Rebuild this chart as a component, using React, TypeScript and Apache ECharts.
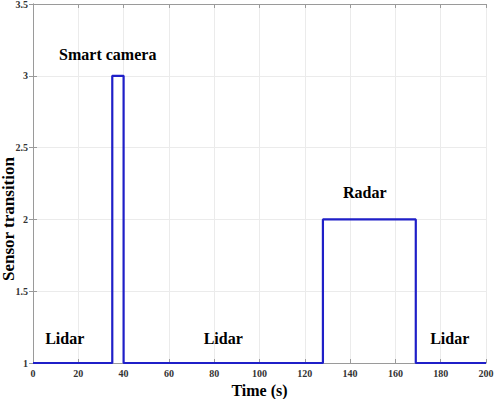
import React, { useEffect, useRef } from "react";
import * as echarts from "echarts";

const times = [0, 35, 35, 40, 40, 128, 128, 169, 169, 200];
const levels = [1, 1, 3, 3, 1, 1, 2, 2, 1, 1];

const labelTexts = ["Smart camera", "Lidar", "Lidar", "Radar", "Lidar"];
const labelTimes = [33, 14, 84, 146.5, 184];
const labelLevels = [3.15, 1.17, 1.17, 2.19, 1.17];

const xTicks = { min: 0, max: 200, interval: 20 };
const yTicks = { min: 1, max: 3.5, interval: 0.5 };

const xTitle = "Time (s)";
const yTitle = "Sensor transition";

const FONT = "Liberation Serif";

export default function App() {
  const ref = useRef<HTMLDivElement>(null);
  useEffect(() => {
    if (!ref.current) return;
    const chart = echarts.init(ref.current, undefined, { renderer: "svg" });
    const axisLineStyle = { color: "#9a9a9a", width: 1 };
    const tickLabel = {
      fontFamily: FONT,
      fontWeight: "bold" as const,
      fontSize: 10,
      color: "#333",
    };
    chart.setOption({
      animation: false,
      backgroundColor: "#fff",
      grid: {
        left: 33,
        right: 8,
        top: 4,
        bottom: 36,
        containLabel: false,
        outerBoundsMode: "none",
      },
      graphic: [
        {
          type: "text",
          x: 8,
          y: 219,
          rotation: Math.PI / 2,
          style: {
            text: yTitle,
            fontFamily: FONT,
            fontWeight: "bold",
            fontSize: 17,
            fill: "#000",
            align: "center",
            verticalAlign: "middle",
          },
        },
      ],
      xAxis: [
        {
          type: "value",
          min: xTicks.min,
          max: xTicks.max,
          interval: xTicks.interval,
          name: xTitle,
          nameLocation: "middle",
          nameGap: 19,
          nameMoveOverlap: false,
          nameTextStyle: { fontFamily: FONT, fontWeight: "bold", fontSize: 16, color: "#000" },
          axisLine: { show: true, lineStyle: axisLineStyle },
          axisTick: { show: true, inside: true, length: 4, lineStyle: axisLineStyle },
          axisLabel: { ...tickLabel, margin: 5 },
          splitLine: { show: true, lineStyle: { color: "#ebebeb", width: 1 } },
        },
        {
          type: "value",
          position: "top",
          min: xTicks.min,
          max: xTicks.max,
          interval: xTicks.interval,
          axisLine: { show: true, lineStyle: axisLineStyle },
          axisTick: { show: true, inside: true, length: 4, lineStyle: axisLineStyle },
          axisLabel: { show: false },
          splitLine: { show: false },
        },
      ],
      yAxis: [
        {
          type: "value",
          min: yTicks.min,
          max: yTicks.max,
          interval: yTicks.interval,
          axisLine: { show: true, lineStyle: axisLineStyle },
          axisTick: { show: true, inside: true, length: 4, lineStyle: axisLineStyle },
          axisLabel: { ...tickLabel, margin: 5 },
          splitLine: { show: true, lineStyle: { color: "#ebebeb", width: 1 } },
        },
        {
          type: "value",
          position: "right",
          min: yTicks.min,
          max: yTicks.max,
          interval: yTicks.interval,
          axisLine: { show: true, lineStyle: axisLineStyle },
          axisTick: { show: true, inside: true, length: 4, lineStyle: axisLineStyle },
          axisLabel: { show: false },
          splitLine: { show: false },
        },
      ],
      series: [
        {
          type: "line",
          data: times.map((t, i) => [t, levels[i]]),
          showSymbol: false,
          symbol: "none",
          lineStyle: { color: "#1f1fc8", width: 2.2 },
          markPoint: {
            symbol: "circle",
            symbolSize: 0,
            data: labelTexts.map((txt, i) => ({
              coord: [labelTimes[i], labelLevels[i]],
              label: {
                show: true,
                formatter: txt,
                position: "inside",
                fontFamily: FONT,
                fontWeight: "bold",
                fontSize: 16,
                color: "#000",
              },
            })),
          },
        },
      ],
    });
    return () => chart.dispose();
  }, []);
  return <div ref={ref} style={{ width: 494, height: 399, position: "absolute", left: 0, top: 0 }} />;
}
